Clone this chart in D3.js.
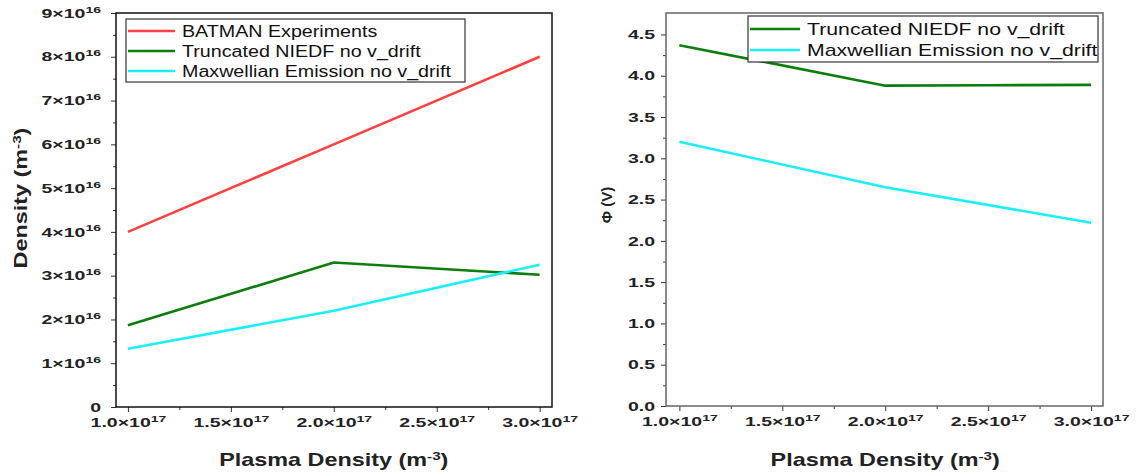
<!DOCTYPE html>
<html>
<head>
<meta charset="utf-8">
<script src="https://cdn.jsdelivr.net/npm/d3@7"></script>
<style>
  body { margin: 0; background: #fff; }
  svg { font-family: "Liberation Sans", Arial, sans-serif; }
</style>
</head>
<body>
<svg id="chart" width="1136" height="475"></svg>
<script>
// plasma density (m^-3)
const xLeft = [1e17, 2e17, 3e17];
const batman = [4e16, 6e16, 8e16];
const truncDensity = [1.87e16, 3.30e16, 3.02e16];
const maxwDensity = [1.33e16, 2.20e16, 3.25e16];

const xRight = [1e17, 2e17, 2.5e17, 3e17];
const truncPhi = [4.37, 3.88, 3.885, 3.89];
const xRightMaxw = [1e17, 2e17, 3e17];
const maxwPhi = [3.20, 2.65, 2.22];

const xTicks = [1e17, 1.5e17, 2e17, 2.5e17, 3e17];
const xTickLabels = ["1.0", "1.5", "2.0", "2.5", "3.0"];
const leftYTicks = [0, 1e16, 2e16, 3e16, 4e16, 5e16, 6e16, 7e16, 8e16, 9e16];
const rightYTicks = [0, 0.5, 1, 1.5, 2, 2.5, 3, 3.5, 4, 4.5];

const RED = "#ff4040", GREEN = "#0b7d0b", CYAN = "#19f0f5";
const FONT = '"Liberation Sans", Arial, sans-serif';
const TICK_SX = 1.5;   // the original's lettering is drawn wide

const svg = d3.select("#chart");

function supLabel(sel, base, exp) {
  sel.text(null);
  sel.append("tspan").text(base);
  if (exp) sel.append("tspan").attr("dy", "-0.55em").attr("font-size", "0.72em").text(exp);
}

function minusThree(t) {
  t.append("tspan").attr("dy", "-0.5em").attr("font-size", "0.65em").text("-3");
  t.append("tspan").attr("dy", "0.32em").text(")");
}

function drawPanel(opt) {
  const x = d3.scaleLinear().domain(opt.xDomain).range(opt.xRange);
  const y = d3.scaleLinear().domain(opt.yDomain).range(opt.yRange);
  const g = svg.append("g");

  // minor ticks
  const xMinor = d3.range(0, 5).map(i => 1e17 + i * 0.5e17 + 0.25e17).filter(v => v < opt.xDomain[1]);
  g.append("g").attr("transform", `translate(0,${opt.yRange[0]})`)
    .call(d3.axisBottom(x).tickValues(xMinor).tickSize(3).tickFormat(""))
    .call(a => a.select(".domain").remove());
  g.append("g").attr("transform", `translate(${opt.xRange[0]},0)`)
    .call(d3.axisLeft(y).tickValues(opt.yMinor).tickSize(3).tickFormat(""))
    .call(a => a.select(".domain").remove());

  // major ticks
  const xa = g.append("g").attr("transform", `translate(0,${opt.yRange[0]})`)
    .call(d3.axisBottom(x).tickValues(xTicks).tickSize(5).tickPadding(6));
  xa.selectAll(".tick text").each(function(d, i) {
    const t = d3.select(this);
    supLabel(t, xTickLabels[i] + "\u00d710", "17");
    t.attr("transform", `scale(${TICK_SX},1)`)
      .attr("font-size", 13).attr("font-weight", "bold").attr("fill", "#222").attr("font-family", FONT);
  });
  g.append("g").attr("transform", `translate(${opt.xRange[0]},0)`)
    .call(d3.axisLeft(y).tickValues(opt.yTicks).tickSize(5).tickFormat(""));

  // y tick labels, drawn like the legend text: translate + stretch, measured for right alignment
  opt.yTicks.forEach(v => {
    const t = g.append("text")
      .attr("transform", `translate(${opt.xRange[0] - opt.yPad},${y(v)}) scale(${TICK_SX},1)`)
      .attr("dy", "0.36em")
      .attr("font-size", 13).attr("font-weight", "bold").attr("fill", "#222");
    const l = opt.yLabel(v);
    supLabel(t, l[0], l[1]);
    t.attr("x", -t.node().getComputedTextLength());
  });
  g.selectAll(".tick line").attr("stroke", "#333");
  g.selectAll(".domain").remove();

  // frame
  g.append("rect")
    .attr("x", opt.xRange[0]).attr("y", opt.yRange[1])
    .attr("width", opt.xRange[1] - opt.xRange[0])
    .attr("height", opt.yRange[0] - opt.yRange[1])
    .attr("fill", "none").attr("stroke", opt.frame).attr("stroke-width", 1.5);

  const line = d3.line().x(d => x(d[0])).y(d => y(d[1]));
  opt.series.forEach(s => {
    g.append("path")
      .datum(s.xs.map((v, i) => [v, s.ys[i]]))
      .attr("d", line)
      .attr("fill", "none")
      .attr("stroke", s.color)
      .attr("stroke-width", 2.6);
  });

  // legend
  const L = opt.legend;
  g.append("rect").attr("x", L.x).attr("y", L.y).attr("width", L.w).attr("height", L.h)
    .attr("fill", "#fff").attr("stroke", "#333").attr("stroke-width", 1.2);
  opt.series.forEach((s, i) => {
    const cy = L.y + L.first + i * L.step;
    g.append("line").attr("x1", L.x + 2).attr("x2", L.x + L.lineW).attr("y1", cy).attr("y2", cy)
      .attr("stroke", s.color).attr("stroke-width", 2.6);
    g.append("text")
      .attr("transform", `translate(${L.x + L.lineW + 7},${cy}) scale(${L.sx},1)`)
      .attr("dy", "0.36em")
      .attr("font-size", L.fs).attr("fill", "#111").text(s.name);
  });

  // axis titles
  const xt = g.append("text")
    .attr("transform", `translate(${(x(1e17) + x(3e17)) / 2},466) scale(1.3,1)`)
    .attr("text-anchor", "middle").attr("font-size", 18).attr("font-weight", "bold").attr("fill", "#222");
  xt.append("tspan").text("Plasma Density (m");
  minusThree(xt);

  const yt = g.append("text")
    .attr("transform", `translate(${opt.yTitleX},${opt.yTitleY}) rotate(-90) scale(${opt.yTitleSx},1)`)
    .attr("text-anchor", "middle").attr("font-size", opt.yTitleFs).attr("font-weight", "bold").attr("fill", "#222");
  opt.yTitle(yt);
}

drawPanel({
  xDomain: [0.942e17, 3.06e17], xRange: [116, 552],
  yDomain: [0, 9e16], yRange: [407, 13],
  yTicks: leftYTicks, yPad: 15,
  yMinor: d3.range(0, 9).map(i => i * 1e16 + 0.5e16),
  yLabel: d => d === 0 ? ["0", null] : [Math.round(d / 1e16) + "\u00d710", "16"],
  frame: "#111",
  series: [
    { name: "BATMAN Experiments", xs: xLeft, ys: batman, color: RED },
    { name: "Truncated NIEDF no v_drift", xs: xLeft, ys: truncDensity, color: GREEN },
    { name: "Maxwellian Emission no v_drift", xs: xLeft, ys: maxwDensity, color: CYAN }
  ],
  legend: { x: 126, y: 19, w: 339, h: 63, first: 12, step: 20, lineW: 49, fs: 16, sx: 1.23 },
  yTitleX: 27, yTitleY: 198, yTitleSx: 1.3, yTitleFs: 18,
  yTitle: t => {
    t.append("tspan").text("Density (m");
    minusThree(t);
  }
});

drawPanel({
  xDomain: [0.935e17, 3.058e17], xRange: [666, 1103],
  yDomain: [0, 4.76], yRange: [406, 13],
  yTicks: rightYTicks, yPad: 11,
  yMinor: d3.range(0, 9).map(i => i * 0.5 + 0.25),
  yLabel: d => [d3.format(".1f")(d), null],
  frame: "#666",
  series: [
    { name: "Truncated NIEDF no v_drift", xs: xRight, ys: truncPhi, color: GREEN },
    { name: "Maxwellian Emission no v_drift", xs: xRightMaxw, ys: maxwPhi, color: CYAN }
  ],
  legend: { x: 748, y: 16, w: 350, h: 46, first: 13, step: 21, lineW: 52, fs: 17, sx: 1.25 },
  yTitleX: 612, yTitleY: 205, yTitleSx: 1, yTitleFs: 15,
  yTitle: t => t.text("\u03a6 (V)")
});
</script>
</body>
</html>
